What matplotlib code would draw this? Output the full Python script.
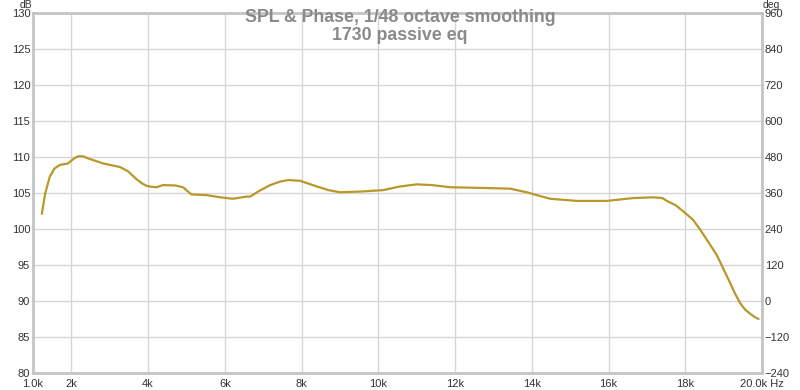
import matplotlib.pyplot as plt

plt.rcParams['font.family'] = ['Liberation Sans', 'DejaVu Sans']

# frequency (kHz) and SPL (dB)
freq_khz = [1.23, 1.32, 1.44, 1.56, 1.70, 1.91, 2.00, 2.10, 2.18, 2.30, 2.44, 2.83,
            3.27, 3.48, 3.70, 3.85, 3.96, 4.10, 4.22, 4.39, 4.70, 4.91, 5.13, 5.53,
            5.88, 6.21, 6.56, 6.66, 6.90, 7.18, 7.45, 7.66, 7.96, 8.40, 8.70, 9.00,
            9.53, 10.13, 10.56, 11.00, 11.40, 11.87, 12.74, 13.44, 13.87, 14.20,
            14.48, 15.17, 15.96, 16.65, 17.17, 17.40, 17.52, 17.75, 17.96, 18.20,
            18.39, 18.60, 18.82, 19.00, 19.17, 19.30, 19.43, 19.56, 19.70, 19.80,
            19.91]
spl_db = [102.1, 105.0, 107.3, 108.4, 108.9, 109.1, 109.5, 109.9, 110.1, 110.1,
          109.8, 109.1, 108.6, 108.0, 106.9, 106.3, 106.0, 105.85, 105.8, 106.1,
          106.05, 105.8, 104.8, 104.7, 104.4, 104.2, 104.5, 104.5, 105.3, 106.1,
          106.6, 106.8, 106.7, 105.9, 105.4, 105.1, 105.2, 105.4, 105.9, 106.2,
          106.1, 105.8, 105.7, 105.6, 105.1, 104.6, 104.2, 103.9, 103.9, 104.3,
          104.4, 104.3, 103.9, 103.3, 102.4, 101.3, 99.9, 98.2, 96.4, 94.4, 92.5,
          91.0, 89.7, 88.8, 88.2, 87.8, 87.5]

x_ticks = [1000, 2000, 4000, 6000, 8000, 10000, 12000, 14000, 16000, 18000, 20000]
x_labels = ['1.0k', '2k', '4k', '6k', '8k', '10k', '12k', '14k', '16k', '18k', '20.0k Hz']
db_ticks = [80, 85, 90, 95, 100, 105, 110, 115, 120, 125, 130]
deg_ticks = [-240, -120, 0, 120, 240, 360, 480, 600, 720, 840, 960]

fig = plt.figure(figsize=(8, 3.9), dpi=100)
ax = fig.add_axes([33 / 800, 17 / 390, 729 / 800, 360 / 390])

ax.plot([v * 1000 for v in freq_khz], spl_db, color='#b8982a', lw=1.6,
        solid_joinstyle='round', solid_capstyle='round')

ax.set_xlim(1000, 20000)
ax.set_ylim(80, 130)
ax.set_xticks(x_ticks)
ax.set_xticklabels(x_labels)
ax.set_yticks(db_ticks)
ax.grid(True, color='#d6d6d6', lw=1)
ax.tick_params(axis='y', length=0, labelsize=8, colors='#333333', pad=2)
ax.tick_params(axis='x', length=0, labelsize=8, colors='#333333', pad=4)
for s in ax.spines.values():
    s.set_color('#c4c4c4')
    s.set_linewidth(2)

ax2 = ax.twinx()
ax2.set_ylim(-240, 960)
ax2.set_yticks(deg_ticks)
ax2.tick_params(length=0, labelsize=8, colors='#333333', pad=2)
for s in ax2.spines.values():
    s.set_visible(False)

fig.text(32 / 800, 1 - 5 / 390, 'dB', fontsize=7.5, ha='right', va='center', color='#333333')
fig.text(763 / 800, 1 - 5 / 390, 'deg', fontsize=7.5, ha='left', va='center', color='#333333')

fig.text(400 / 800, 1 - 17 / 390, 'SPL & Phase, 1/48 octave smoothing', fontsize=12.8,
         fontweight='bold', color='#8a8a8a', ha='center', va='center')
fig.text(400 / 800, 1 - 36 / 390, '1730 passive eq', fontsize=12.8,
         fontweight='bold', color='#8a8a8a', ha='center', va='center')

fig.savefig('out.png', dpi=100)
